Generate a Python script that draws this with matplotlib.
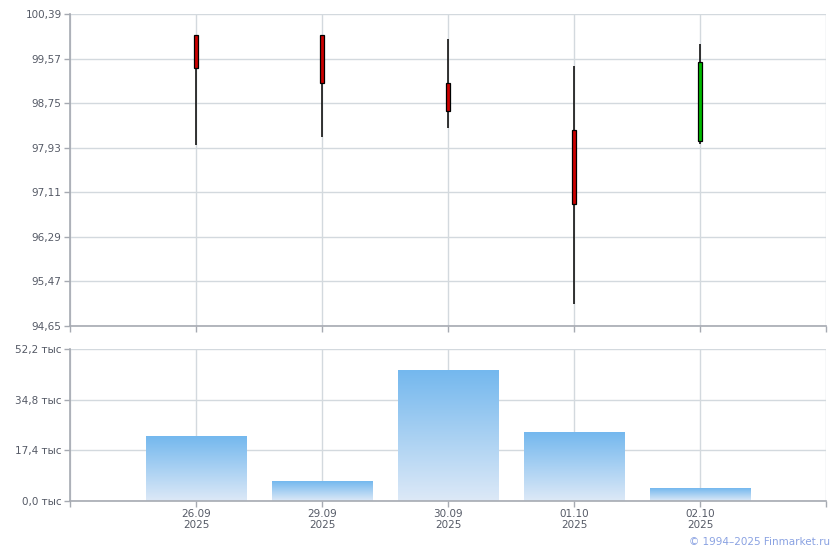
import matplotlib
matplotlib.use("Agg")
import matplotlib.pyplot as plt
import numpy as np

# data
dates = ["26.09", "29.09", "30.09", "01.10", "02.10"]
years = ["2025", "2025", "2025", "2025", "2025"]
open_ = [100.01, 100.01, 99.12, 98.26, 98.05]
high = [100.01, 100.01, 99.93, 99.43, 99.84]
low = [97.98, 98.12, 98.29, 95.05, 98.00]
close = [99.39, 99.12, 98.60, 96.89, 99.51]
volume = [22100, 6600, 44900, 23500, 4150]

price_ticks = [94.65, 95.47, 96.29, 97.11, 97.93, 98.75, 99.57, 100.39]
vol_ticks = [0, 17400, 34800, 52200]

grid_c = "#d3d9de"
spine_c = "#a6aab2"
text_c = "#555a66"

fig = plt.figure(figsize=(8.4, 5.5), dpi=100)
W, H = 840, 550
ax1 = fig.add_axes([70 / W, (H - 326) / H, 756 / W, 312 / H])
ax2 = fig.add_axes([70 / W, (H - 501) / H, 756 / W, 151.7 / H])

x = np.arange(len(dates))

for ax in (ax1, ax2):
    ax.set_xlim(-1, len(dates))
    ax.set_xticks(np.arange(-1, len(dates) + 1))
    ax.grid(True, color=grid_c, linewidth=1)
    ax.set_axisbelow(True)
    for s in ("top", "right"):
        ax.spines[s].set_visible(False)
    for s in ("left", "bottom"):
        ax.spines[s].set_color(spine_c)
        ax.spines[s].set_linewidth(1.2)
    ax.tick_params(colors=spine_c, length=4.5, width=1, labelcolor=text_c,
                   labelsize=7.5, pad=1.5)

# candles
ax1.set_ylim(price_ticks[0], price_ticks[-1])
ax1.set_yticks(price_ticks)
ax1.set_yticklabels([f"{v:.2f}".replace(".", ",") for v in price_ticks])
ax1.set_xticklabels([])
bw = 0.03
for i in range(len(dates)):
    ax1.vlines(x[i], low[i], high[i], color="black", linewidth=1.1, zorder=3)
    col = "#00bb00" if close[i] > open_[i] else "#cc0000"
    b = min(open_[i], close[i])
    ax1.bar(x[i], abs(close[i] - open_[i]), bottom=b, width=bw, color=col,
            edgecolor="black", linewidth=0.9, zorder=4)

# volume bars with gradient
ax2.set_ylim(vol_ticks[0], vol_ticks[-1])
ax2.set_yticks(vol_ticks)
ax2.set_yticklabels([f"{v / 1000:.1f} тыс".replace(".", ",") for v in vol_ticks])
ax2.set_xticklabels([""] + [f"{d}\n{y}" for d, y in zip(dates, years)] + [""],
                    linespacing=1.1)
grad = np.linspace(0, 1, 256).reshape(-1, 1)
cmap = matplotlib.colors.LinearSegmentedColormap.from_list(
    "vol", ["#dde9f7", "#74b8ee"])
bars = ax2.bar(x, volume, width=0.8, color="none", zorder=2)
for r in bars:
    x0, y0 = r.get_x(), r.get_y()
    ax2.imshow(grad, cmap=cmap, aspect="auto", origin="lower", zorder=2,
               extent=(x0, x0 + r.get_width(), y0, y0 + r.get_height()))
ax2.set_xlim(-1, len(dates))
ax2.set_ylim(vol_ticks[0], vol_ticks[-1])

fig.text(830 / W, (H - 542) / H, "© 1994–2025 Finmarket.ru", color="#8aa2e2",
         fontsize=7.5, ha="right", va="center")

fig.savefig("out.png", dpi=100)
